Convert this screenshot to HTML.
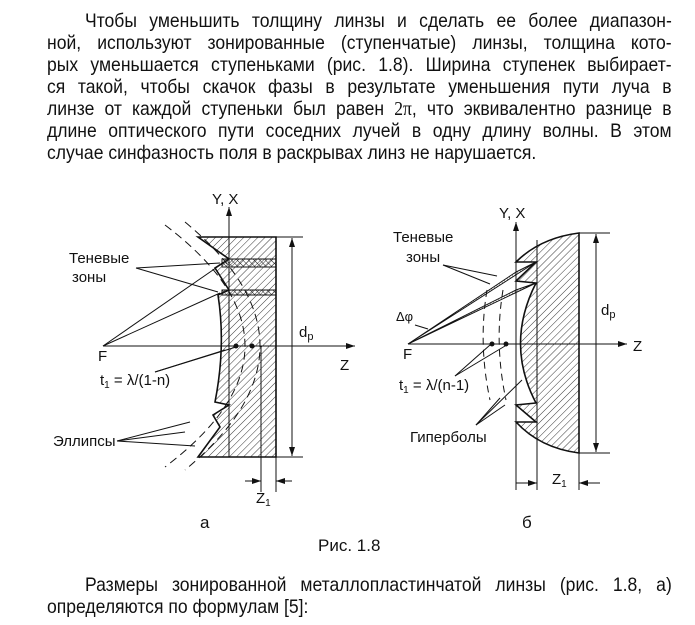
<!DOCTYPE html>
<html><head><meta charset="utf-8"><style>
body{margin:0;background:#fff;width:695px;height:625px;overflow:hidden;position:relative;font-family:"Liberation Sans",sans-serif;color:#111}
.l{position:absolute;left:47px;height:22px;line-height:22px;font-size:19.5px;white-space:nowrap;transform-origin:0 0;transform:scaleX(0.9);width:694px;text-align:justify;text-align-last:justify}
.i{left:85px;width:652px}
svg{position:absolute;left:0;top:0}
svg text{font-family:"Liberation Sans",sans-serif;fill:#111}
</style></head><body>
<div class="l i" style="top:10px">Чтобы уменьшить толщину линзы и сделать ее более диапазон-</div>
<div class="l" style="top:32px">ной, используют зонированные (ступенчатые) линзы, толщина кото-</div>
<div class="l" style="top:54px">рых уменьшается ступеньками (рис. 1.8). Ширина ступенек выбирает-</div>
<div class="l" style="top:76px">ся такой, чтобы скачок фазы в результате уменьшения пути луча в</div>
<div class="l" style="top:98px">линзе от каждой ступеньки был равен <span style="font-family:'Liberation Serif',serif">2π</span>, что эквивалентно разнице в</div>
<div class="l" style="top:120px">длине оптического пути соседних лучей в одну длину волны. В этом</div>
<div class="l" style="top:142px;text-align-last:left">случае синфазность поля в раскрывах линз не нарушается.</div>
<div class="l i" style="top:574px">Размеры зонированной металлопластинчатой линзы (рис. 1.8, а)</div>
<div class="l" style="top:596px;text-align-last:left">определяются по формулам [5]:</div>
<svg width="695" height="625" viewBox="0 0 695 625">
<defs>
<pattern id="h" width="5" height="5" patternUnits="userSpaceOnUse" patternTransform="rotate(45)"><line x1="0" y1="0" x2="0" y2="5" stroke="#222" stroke-width="0.9"/></pattern>
<pattern id="x" width="4" height="4" patternUnits="userSpaceOnUse" patternTransform="rotate(45)"><path d="M0 0V4M0 0H4" stroke="#222" stroke-width="0.9"/></pattern>
<pattern id="v" width="3" height="3" patternUnits="userSpaceOnUse" patternTransform="rotate(-20)"><line x1="0" y1="0" x2="0" y2="3" stroke="#222" stroke-width="0.8"/></pattern>
<marker id="a" markerWidth="10" markerHeight="8" refX="9" refY="4" orient="auto" markerUnits="userSpaceOnUse"><path d="M0,1 L9,4 L0,7 Z" fill="#111"/></marker>
</defs>
<g stroke="#111" fill="none" stroke-width="1">
<path d="M198,237 L276,237 L276,457 L198,457 L220,427 L213,415 L229,405 L215,402 Q226,346 218,295 L229,290 L215,268 L229,259 Z" fill="url(#h)" stroke-width="1.6"/>
<rect x="222" y="259" width="54" height="8" fill="url(#x)"/>
<rect x="222" y="290" width="54" height="5" fill="url(#x)"/>
<path d="M165,225 Q325,346 165,467" stroke-dasharray="8,5"/>
<path d="M185,222 Q335,346 185,470" stroke-dasharray="8,5"/>
<line x1="229" y1="457" x2="229" y2="207" marker-end="url(#a)"/>
<line x1="103" y1="346" x2="355" y2="346" marker-end="url(#a)"/>
<line x1="276" y1="237" x2="303" y2="237"/><line x1="276" y1="457" x2="303" y2="457"/>
<line x1="292" y1="346" x2="292" y2="238" marker-end="url(#a)"/><line x1="292" y1="346" x2="292" y2="456" marker-end="url(#a)"/>
<line x1="261" y1="346" x2="261" y2="492"/><line x1="276" y1="457" x2="276" y2="492"/>
<line x1="245" y1="481" x2="261" y2="481" marker-end="url(#a)"/><line x1="292" y1="481" x2="276" y2="481" marker-end="url(#a)"/>
<line x1="103" y1="346" x2="226" y2="261"/><line x1="103" y1="346" x2="220" y2="293"/>
<line x1="136" y1="268" x2="220" y2="263"/><line x1="136" y1="268" x2="218" y2="292"/>
<line x1="155" y1="372" x2="236" y2="347"/><line x1="155" y1="372" x2="225" y2="350"/>
<line x1="117" y1="441" x2="190" y2="422"/><line x1="117" y1="441" x2="185" y2="432"/><line x1="117" y1="441" x2="195" y2="446"/>
<path d="M579,233 L579,453 Q540,448 516,422 L536,422 L516,405 L536,403 Q505,344 536,283 L516,281 L536,262 L516,262 Q540,238 579,233 Z" fill="url(#h)" stroke-width="1.6"/>
<path d="M408,344 L536,262 L516,272 Z" fill="url(#v)"/>
<path d="M408,344 L536,283 L516,290 Z" fill="url(#v)"/>
<line x1="537" y1="240" x2="537" y2="490"/>
<line x1="516" y1="490" x2="516" y2="222" marker-end="url(#a)"/>
<line x1="408" y1="344" x2="627" y2="344" marker-end="url(#a)"/>
<line x1="579" y1="233" x2="610" y2="233"/><line x1="579" y1="453" x2="610" y2="453"/>
<line x1="579" y1="453" x2="579" y2="490"/>
<line x1="596" y1="344" x2="596" y2="234" marker-end="url(#a)"/><line x1="596" y1="344" x2="596" y2="452" marker-end="url(#a)"/>
<line x1="516" y1="483" x2="537" y2="483" marker-end="url(#a)"/><line x1="600" y1="483" x2="579" y2="483" marker-end="url(#a)"/>
<path d="M487,290 Q478,344 490,400" stroke-dasharray="7,5"/>
<path d="M503,290 Q494,344 506,400" stroke-dasharray="7,5"/>
<line x1="443" y1="265" x2="497" y2="276"/><line x1="443" y1="265" x2="490" y2="284"/>
<line x1="415" y1="325" x2="428" y2="329"/>
<line x1="455" y1="376" x2="490" y2="345"/><line x1="455" y1="376" x2="505" y2="346"/>
<line x1="476" y1="425" x2="522" y2="380"/><line x1="476" y1="425" x2="500" y2="398"/><line x1="476" y1="425" x2="505" y2="405"/>
</g>
<g fill="#111"><circle cx="236" cy="346" r="2.5"/><circle cx="252" cy="346" r="2.5"/><circle cx="492" cy="344" r="2.5"/><circle cx="506" cy="344" r="2.5"/></g>
<g font-size="15">
<text x="212" y="204">Y, X</text><text x="69" y="263">Теневые</text><text x="72" y="282">зоны</text>
<text x="98" y="361">F</text><text x="340" y="370">Z</text><text x="299" y="337">d<tspan font-size="11" dy="3">p</tspan></text>
<text x="100" y="385">t<tspan font-size="10" dy="3">1</tspan><tspan dy="-3"> = λ/(1-n)</tspan></text>
<text x="53" y="446">Эллипсы</text><text x="256" y="503">Z<tspan font-size="10" dy="3">1</tspan></text>
<text x="499" y="218">Y, X</text><text x="393" y="242">Теневые</text><text x="406" y="262">зоны</text>
<text x="396" y="321" font-size="13">Δφ</text><text x="403" y="359">F</text><text x="633" y="351">Z</text>
<text x="601" y="315">d<tspan font-size="11" dy="3">p</tspan></text>
<text x="399" y="390">t<tspan font-size="10" dy="3">1</tspan><tspan dy="-3"> = λ/(n-1)</tspan></text>
<text x="410" y="442">Гиперболы</text><text x="552" y="484">Z<tspan font-size="10" dy="3">1</tspan></text>
<text x="200" y="528" font-size="17">а</text><text x="522" y="528" font-size="17">б</text>
<text x="318" y="551" font-size="17">Рис. 1.8</text>
</g>
</svg>
</body></html>
